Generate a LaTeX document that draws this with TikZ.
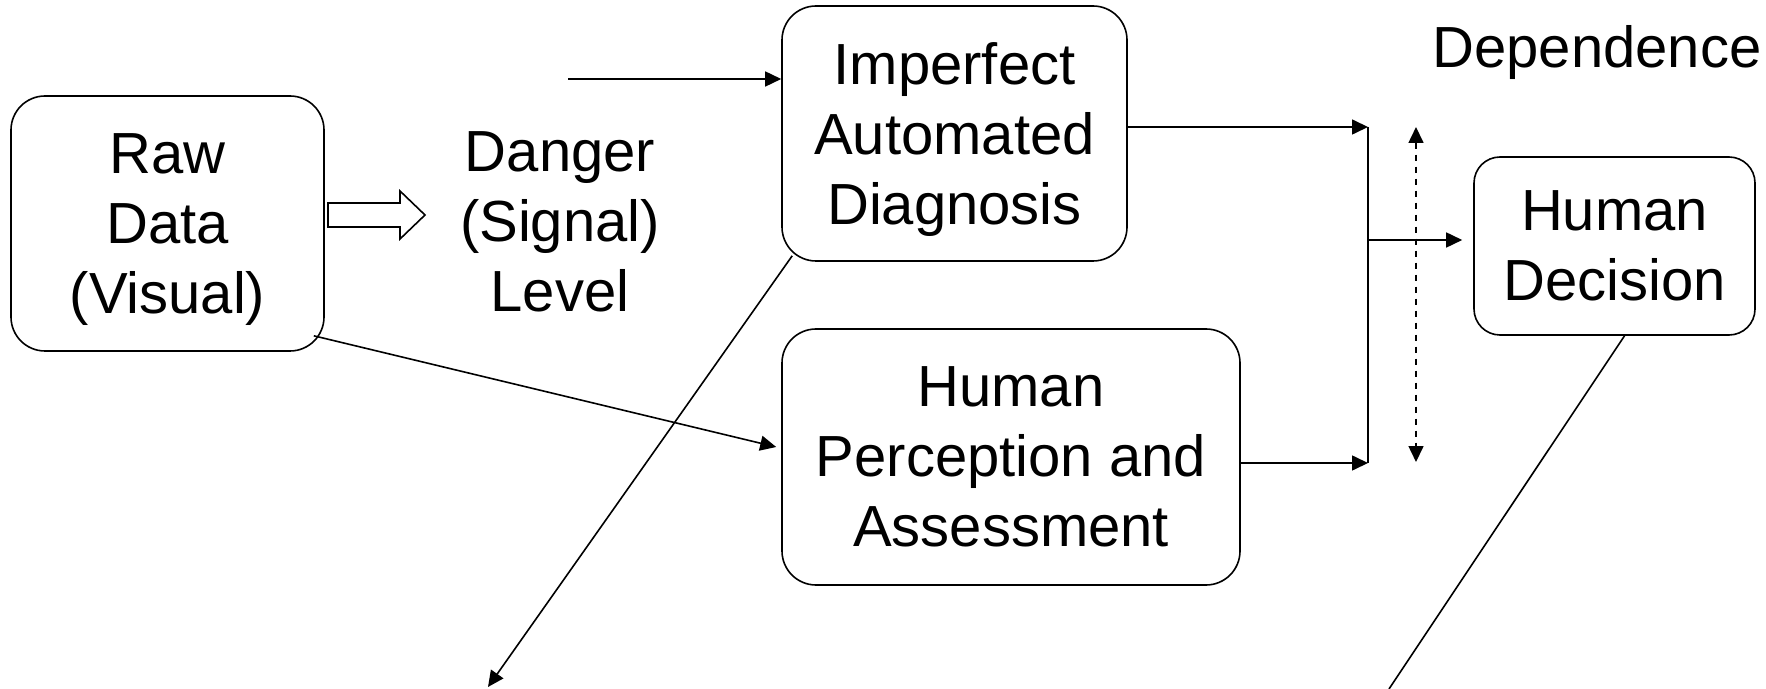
\documentclass[tikz,border=0pt]{standalone}
\usepackage{fontspec}
\setmainfont{Liberation Sans}
\usetikzlibrary{arrows.meta}
\begin{document}
\begin{tikzpicture}[x=0.5pt, y=-0.5pt, line width=0.8pt,
		box/.style={draw, rounded corners=17pt, align=center, inner sep=0pt, text depth=0pt},
		label/.style={align=center, inner sep=0pt},
		arr/.style={-{Triangle[length=8pt,width=7.5pt]}},
		every node/.style={font=\fontsize{29}{35}\selectfont}]
		\useasboundingbox (0,0) rectangle (1766,689);

		% Boxes
		\node[box, minimum width=156.5pt, minimum height=127.5pt] (raw) at (167.5,223.5) {Raw\\Data\\(Visual)};
		\node[box, minimum width=172.5pt, minimum height=127.5pt] (imp) at (954.5,133.5) {Imperfect\\Automated\\Diagnosis};
		\node[box, minimum width=229pt, minimum height=128pt] (hpa) at (1011,457) {Human\\Perception and\\Assessment};
		\node[box, rounded corners=13pt, minimum width=140.5pt, minimum height=89pt] (hdec) at (1614.5,246) {Human\\Decision};

		% Free texts
		\node[label] (danger) at (560,222) {Danger\\(Signal)\\Level};
		\node[label] (dep) at (1597,53) {Dependence};

		% Hollow arrow from raw data to signal level
		\draw (328,203) -- (400,203) -- (400,191) -- (425,215) -- (400,239) -- (400,227) -- (328,227) -- cycle;

		% Coordinates for the junction and free ends
		\coordinate (sigin) at (568,79);
		\coordinate (bartop) at (1368,127);
		\coordinate (barbot) at (1368,463);
		\coordinate (barmid) at (1368,240);
		\coordinate (deptop) at (1416,127);
		\coordinate (depbot) at (1416,462);
		\coordinate (impout) at (488,687);
		\coordinate (decout) at (1389,689);

		% Connectors
		\draw[arr] (sigin) -- (sigin -| imp.west);
		\draw[arr] (bartop -| imp.east) -- (bartop);
		\draw[arr] (barbot -| hpa.east) -- (barbot);
		\draw (bartop) -- (barbot);
		\draw[arr, shorten >=11pt/2] (barmid) -- (barmid -| hdec.west);
		\draw[dashed, {Triangle[length=8pt,width=7.5pt]}-{Triangle[length=8pt,width=7.5pt]}] (deptop) -- (depbot);
		\draw[arr] ([shift={(-11,-16)}]raw.south east) -- ([shift={(-5,-10)}]hpa.west);
		\draw[arr] ([shift={(11,-6)}]imp.south west) -- (impout);
		\draw ([xshift=5pt]hdec.south) -- (decout);
	\end{tikzpicture}
\end{document}
